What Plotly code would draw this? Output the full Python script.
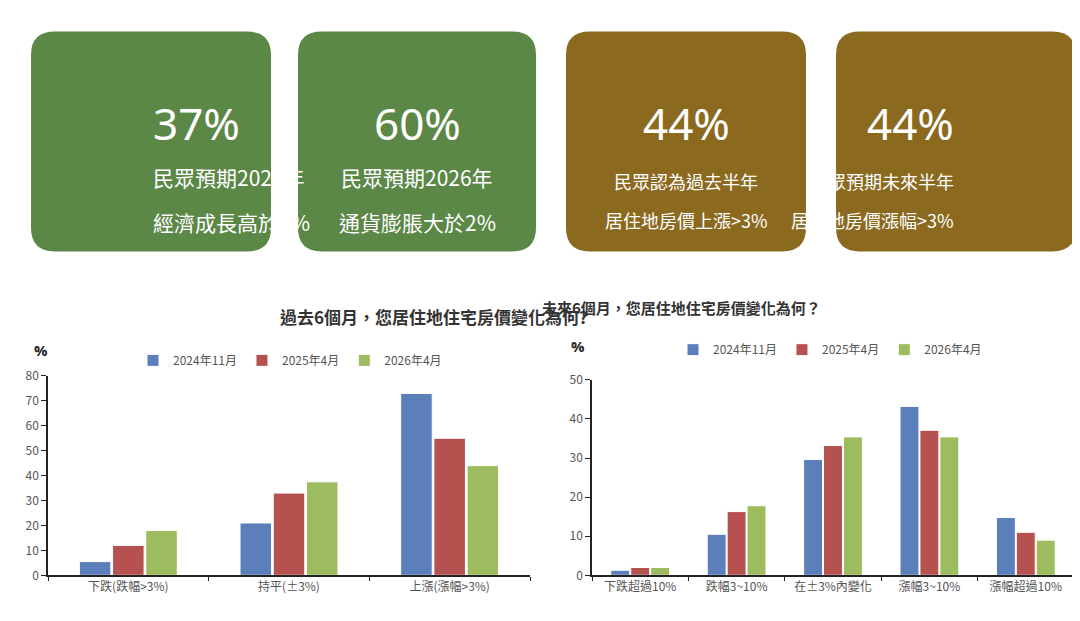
import plotly.graph_objects as go

series = ["2024年11月", "2025年4月", "2026年4月"]
colors = ["#5b7fba", "#b5524f", "#9dbb5f"]
left_cats = ["下跌(跌幅>3%)", "持平(±3%)", "上漲(漲幅>3%)"]
left_vals = [[5.5, 21, 73], [12, 33, 55], [18, 37.5, 44]]
right_cats = ["下跌超過10%", "跌幅3~10%", "在±3%內變化", "漲幅3~10%", "漲幅超過10%"]
right_vals = [[1.3, 10.5, 29.6, 43.2, 14.8], [2, 16.3, 33.2, 37.1, 11], [2, 17.8, 35.4, 35.4, 9]]
card_big = ["37%", "60%", "44%", "44%"]
card_l1 = ["民眾預期2026年", "民眾預期2026年", "民眾認為過去半年", "民眾預期未來半年"]
card_l2 = ["經濟成長高於7%", "通貨膨脹大於2%", "居住地房價上漲>3%", "居住地房價漲幅>3%"]
card_col = ["#5b8747", "#5b8747", "#8b6a1f", "#8b6a1f"]
card_x = [(23, 263), (290, 528), (558, 798), (828, 1068)]

W, H = 1080, 621
fig = go.Figure()
for i, s in enumerate(series):
    fig.add_bar(x=left_cats, y=left_vals[i], name=s, marker_color=colors[i],
                marker_line=dict(color="white", width=1), xaxis="x", yaxis="y", legend="legend")
    fig.add_bar(x=right_cats, y=right_vals[i], name=s, marker_color=colors[i],
                marker_line=dict(color="white", width=1), xaxis="x2", yaxis="y2", legend="legend2")

def px(x): return x / W
def py(y): return 1 - y / H

def rrect(a, b, c, d, r=24):
    x0, x1 = px(a), px(b)
    y0, y1 = py(c), py(d)
    rx, ry = r / W, r / H
    return (f"M{x0+rx},{y0} L{x1-rx},{y0} Q{x1},{y0} {x1},{y0-ry} L{x1},{y1+ry} Q{x1},{y1} {x1-rx},{y1} "
            f"L{x0+rx},{y1} Q{x0},{y1} {x0},{y1+ry} L{x0},{y0-ry} Q{x0},{y0} {x0+rx},{y0} Z")

shapes, ann = [], []
font = "Noto Sans CJK TC"
for i in range(4):
    a, b = card_x[i]
    shapes.append(dict(type="path", xref="paper", yref="paper", line_width=0, fillcolor=card_col[i],
                       path=rrect(a, b, 14, 240)))
    cx = px((a + b) / 2)
    ann.append(dict(x=cx, y=py(75), text=card_big[i], font=dict(size=44, color="white", family="Noto Sans")))
    sz = 21 if i < 2 else 18
    ann.append(dict(x=cx, y=py(146 if i < 2 else 152), text=card_l1[i], font=dict(size=sz, color="white", family=font)))
    ann.append(dict(x=cx, y=py(192), text=card_l2[i], font=dict(size=sz, color="white", family=font)))

ann += [
    dict(x=px(270), y=py(307), text="<b>過去6個月，您居住地住宅房價變化為何?</b>", font=dict(size=17, color="#333", family=font)),
    dict(x=px(815), y=py(298), text="<b>未來6個月，您居住地住宅房價變化為何？</b>", font=dict(size=15, color="#333", family=font)),
    dict(x=px(24), y=py(341), text="<b>%</b>", font=dict(size=15, color="#222")),
    dict(x=px(570), y=py(337), text="<b>%</b>", font=dict(size=15, color="#222")),
]
for a_ in ann:
    a_.update(xref="paper", yref="paper", showarrow=False)

axcommon = dict(showline=True, linecolor="#222", linewidth=1.5, ticks="outside", tickcolor="#222",
                showgrid=False, zeroline=False, tickfont=dict(size=12, color="#555", family=font))
fig.update_layout(
    width=W, height=H, margin=dict(l=0, r=0, t=0, b=0), paper_bgcolor="white", plot_bgcolor="white",
    bargap=0.38, bargroupgap=0.05, showlegend=True,
    shapes=shapes, annotations=ann,
    xaxis=dict(domain=[px(40), px(522)], anchor="y", tickson="boundaries", ticklen=4, **axcommon),
    yaxis=dict(domain=[py(573), py(368)], anchor="x", range=[0, 80], dtick=10, ticklen=5, **axcommon),
    xaxis2=dict(domain=[px(584), px(1066)], anchor="y2", tickson="boundaries", ticklen=4, **axcommon),
    yaxis2=dict(domain=[py(573), py(372)], anchor="x2", range=[0, 50], dtick=10, ticklen=5, **axcommon),
    legend=dict(orientation="h", x=px(125), y=py(352), yanchor="middle", font=dict(size=12, color="#555", family=font),
                itemwidth=30, bgcolor="rgba(0,0,0,0)"),
    legend2=dict(orientation="h", x=px(665), y=py(341), yanchor="middle", font=dict(size=12, color="#555", family=font),
                 itemwidth=30, bgcolor="rgba(0,0,0,0)"),
)
fig.write_html("out.html")
